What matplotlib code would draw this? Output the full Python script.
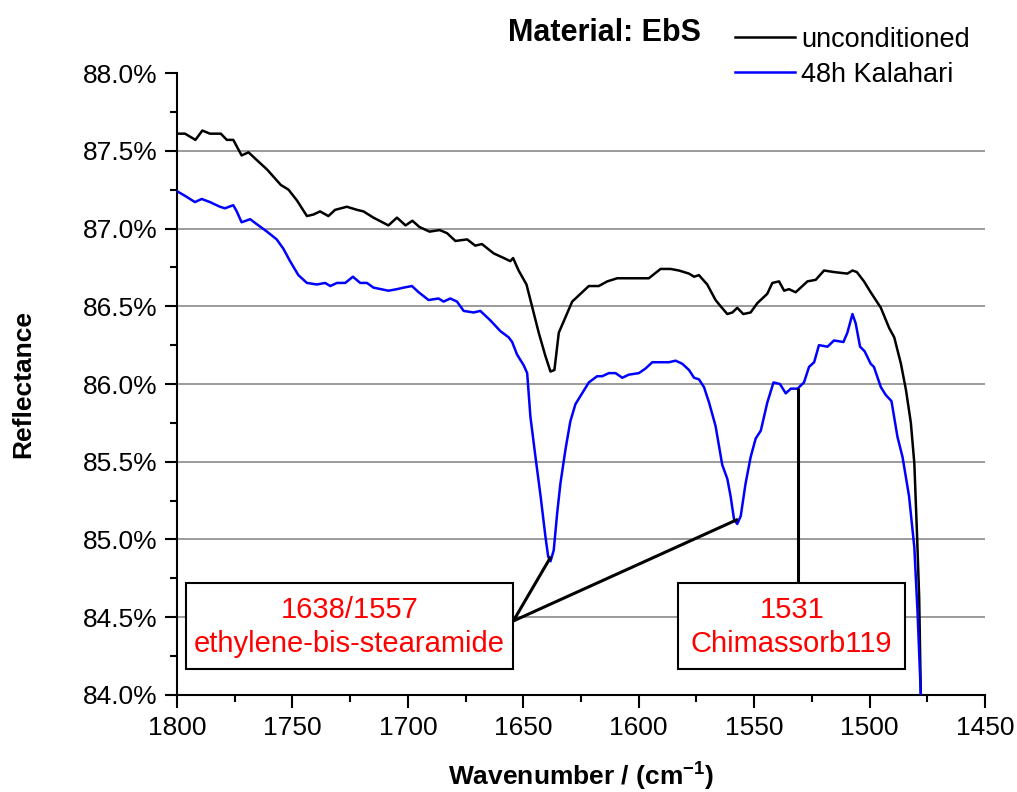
import numpy as np
import matplotlib
matplotlib.use("Agg")
import matplotlib.pyplot as plt
from matplotlib.patches import Rectangle
from matplotlib.ticker import MultipleLocator, FuncFormatter

plt.rcParams['font.family'] = ['Liberation Sans', 'DejaVu Sans']
plt.rcParams['mathtext.fontset'] = 'custom'
plt.rcParams['mathtext.rm'] = 'Liberation Sans'
plt.rcParams['mathtext.bf'] = 'Liberation Sans:bold'

# Reflectance spectra (%), wavenumber in cm^-1
wn_uncond = [1800, 1796.5, 1792, 1789, 1785.7, 1781, 1778.4, 1775.6, 1772, 1769,
             1765.4, 1761, 1755, 1751.7, 1748, 1743.7, 1740.9, 1738, 1734.4, 1731.5,
             1726.4, 1722, 1719.2, 1714.9, 1708.4, 1704.7, 1701, 1698, 1695, 1690.6,
             1686.2, 1683, 1679.4, 1674.3, 1670.8, 1667.9, 1662.8, 1658.4, 1655.6, 1654.4,
             1652, 1648.6, 1646.2, 1643.3, 1640.4, 1638.2, 1636.5, 1634.6, 1631.7, 1628.8,
             1625.2, 1621.6, 1617.3, 1613.6, 1609.3, 1605, 1600.6, 1595.6, 1590.5, 1586.2,
             1582.6, 1578.2, 1576, 1573.9, 1570.3, 1566.7, 1564.5, 1561.6, 1559.4, 1557.3,
             1554.7, 1551.5, 1548.6, 1544.3, 1542.1, 1539.2, 1537, 1534.9, 1532, 1526.9,
             1523.3, 1519.7, 1515.4, 1509.6, 1507.4, 1505.5, 1502.4, 1499.5, 1495.1, 1491.5,
             1489.3, 1486.4, 1484.2, 1482.1, 1480.6, 1479.5, 1478.5, 1477.8, 1477.5]
refl_uncond = [87.61, 87.61, 87.57, 87.63, 87.61, 87.61, 87.57, 87.57, 87.47, 87.49,
               87.44, 87.38, 87.28, 87.25, 87.18, 87.08, 87.09, 87.11, 87.08, 87.12,
               87.14, 87.12, 87.11, 87.07, 87.02, 87.07, 87.02, 87.05, 87.01, 86.98,
               86.99, 86.97, 86.92, 86.93, 86.89, 86.90, 86.84, 86.81, 86.79, 86.81,
               86.73, 86.64, 86.50, 86.33, 86.18, 86.08, 86.09, 86.33, 86.43, 86.53,
               86.58, 86.63, 86.63, 86.66, 86.68, 86.68, 86.68, 86.68, 86.74, 86.74,
               86.73, 86.71, 86.69, 86.70, 86.64, 86.54, 86.50, 86.45, 86.46, 86.49,
               86.45, 86.46, 86.52, 86.58, 86.65, 86.66, 86.60, 86.61, 86.59, 86.66,
               86.67, 86.73, 86.72, 86.71, 86.73, 86.72, 86.66, 86.59, 86.49, 86.36,
               86.30, 86.13, 85.96, 85.75, 85.49, 85.06, 84.63, 84.01, 83.80]

wn_kalahari = [1800, 1796.5, 1792.2, 1789.3, 1785.7, 1781.4, 1779.2, 1775.6, 1774.1, 1772,
               1768.3, 1764.7, 1761, 1756.8, 1753.9, 1751, 1747.4, 1743.7, 1739.4, 1735.8,
               1733.6, 1730.7, 1727.1, 1723.8, 1720.6, 1717.7, 1714.9, 1708.4, 1704.7, 1701.8,
               1698.2, 1695.3, 1691, 1686.7, 1684.5, 1681.6, 1678.7, 1675.8, 1671.5, 1668.6,
               1664.3, 1659.9, 1656.3, 1654.8, 1652.7, 1649.8, 1648.3, 1646.9, 1644.7, 1642.5,
               1640.4, 1639.2, 1638.2, 1636.8, 1635.3, 1633.9, 1631.7, 1629.6, 1627.4, 1624.5,
               1621.6, 1618, 1615.8, 1612.9, 1610, 1607.1, 1604.3, 1599.9, 1597, 1594.1,
               1590.5, 1586.9, 1584, 1581.1, 1578.2, 1576, 1573.9, 1571.7, 1569.5, 1566.7,
               1563.8, 1561.6, 1560.2, 1558.7, 1557.3, 1555.8, 1553.7, 1551.5, 1549.3, 1547.1,
               1544.3, 1541.6, 1538.8, 1536.3, 1534.1, 1531.2, 1528.4, 1526.2, 1524, 1521.9,
               1518.2, 1515.4, 1511.3, 1509.6, 1507.4, 1506, 1504.1, 1502.1, 1499.5, 1498.1,
               1495.1, 1493, 1490.5, 1487.9, 1485.7, 1482.9, 1480.6, 1479.2, 1477.8, 1477.5]
refl_kalahari = [87.24, 87.21, 87.17, 87.19, 87.17, 87.14, 87.13, 87.15, 87.11, 87.04,
                 87.06, 87.02, 86.98, 86.93, 86.87, 86.79, 86.70, 86.65, 86.64, 86.65,
                 86.63, 86.65, 86.65, 86.69, 86.65, 86.65, 86.62, 86.60, 86.61, 86.62,
                 86.63, 86.59, 86.54, 86.55, 86.53, 86.55, 86.53, 86.47, 86.46, 86.47,
                 86.41, 86.34, 86.30, 86.27, 86.19, 86.12, 86.07, 85.79, 85.53, 85.28,
                 85.02, 84.89, 84.86, 84.93, 85.17, 85.36, 85.58, 85.76, 85.87, 85.94,
                 86.01, 86.05, 86.05, 86.07, 86.07, 86.04, 86.06, 86.07, 86.10, 86.14,
                 86.14, 86.14, 86.15, 86.13, 86.09, 86.04, 86.03, 85.98, 85.88, 85.73,
                 85.48, 85.39, 85.28, 85.13, 85.10, 85.15, 85.36, 85.53, 85.65, 85.70,
                 85.88, 86.01, 86.00, 85.94, 85.97, 85.97, 86.01, 86.11, 86.14, 86.25,
                 86.24, 86.28, 86.27, 86.33, 86.45, 86.39, 86.24, 86.21, 86.13, 86.11,
                 85.98, 85.93, 85.89, 85.66, 85.53, 85.28, 84.95, 84.53, 84.01, 83.80]

series_labels = ["unconditioned", "48h Kalahari"]
series_colors = ["black", "#0000ff"]

# Band assignments
ebs_bands = [1638, 1557]
ebs_label = "1638/1557\nethylene-bis-stearamide"
chim_band = 1531
chim_label = "1531\nChimassorb119"

fig = plt.figure(figsize=(10.17, 7.92), dpi=100)
ax = fig.add_axes([0.174, 0.1225, 0.7945, 0.7853])

ax.plot(wn_uncond, refl_uncond, color=series_colors[0], lw=1.8, label=series_labels[0], zorder=3)
ax.plot(wn_kalahari, refl_kalahari, color=series_colors[1], lw=1.8, label=series_labels[1], zorder=3)

ax.set_xlim(1800, 1450)
ax.set_ylim(84.0, 88.0)

ax.xaxis.set_major_locator(MultipleLocator(50))
ax.xaxis.set_minor_locator(MultipleLocator(25))
ax.yaxis.set_major_locator(MultipleLocator(0.5))
ax.yaxis.set_minor_locator(MultipleLocator(0.25))
ax.yaxis.set_major_formatter(FuncFormatter(lambda v, p: f"{v:.1f}%"))

for v in np.arange(84.5, 88.0, 0.5):
    ax.axhline(v, color="#808080", lw=1.1, zorder=1)

for s in ["top", "right"]:
    ax.spines[s].set_visible(False)
for s in ["left", "bottom"]:
    ax.spines[s].set_linewidth(1.5)

ax.tick_params(axis="both", which="major", direction="out", length=9, width=1.5,
               labelsize=19, pad=5)
ax.tick_params(axis="both", which="minor", direction="out", length=5, width=1.5)
ax.tick_params(axis="x", which="major", pad=6)

ax.set_ylabel("Reflectance", fontsize=19, fontweight="bold", labelpad=34)
ax.set_xlabel(r"Wavenumber / (cm$^{\mathbf{-1}}$)", fontsize=19, fontweight="bold", labelpad=14)

fig.text(0.594, 0.958, "Material: EbS", ha="center", va="center",
         fontsize=22, fontweight="bold")

fig.legend(loc="upper left", bbox_to_anchor=(0.7227, 0.966), frameon=False,
           fontsize=19.5, handlelength=2.2, handletextpad=0.25, labelspacing=0.32,
           borderpad=0, borderaxespad=0)

# Annotation boxes
box_kw = dict(fill=True, facecolor="white", edgecolor="black", lw=1.5, zorder=5)
ax.add_patch(Rectangle((1796.1, 84.167), 1654.3 - 1796.1, 84.722 - 84.167, **box_kw))
ax.add_patch(Rectangle((1582.8, 84.167), 1484.6 - 1582.8, 84.722 - 84.167, **box_kw))

ax.text((1796.1 + 1654.3) / 2, 84.435, ebs_label, ha="center", va="center",
        color="red", fontsize=21, linespacing=1.28, zorder=6)
ax.text((1582.8 + 1484.6) / 2, 84.435, chim_label, ha="center", va="center",
        color="red", fontsize=21, linespacing=1.28, zorder=6)

wk = np.array(wn_kalahari)[::-1]
rk = np.array(refl_kalahari)[::-1]
for band in ebs_bands:
    yb = np.interp(band, wk, rk)
    ax.plot([1654.3, band], [84.476, yb + 0.02], color="black", lw=2.2, zorder=4,
            solid_capstyle="butt")
yc = np.interp(chim_band, wk, rk)
ax.plot([chim_band, chim_band], [84.722, yc], color="black", lw=2.2, zorder=4,
        solid_capstyle="butt")

fig.savefig("out.png", dpi=100)
